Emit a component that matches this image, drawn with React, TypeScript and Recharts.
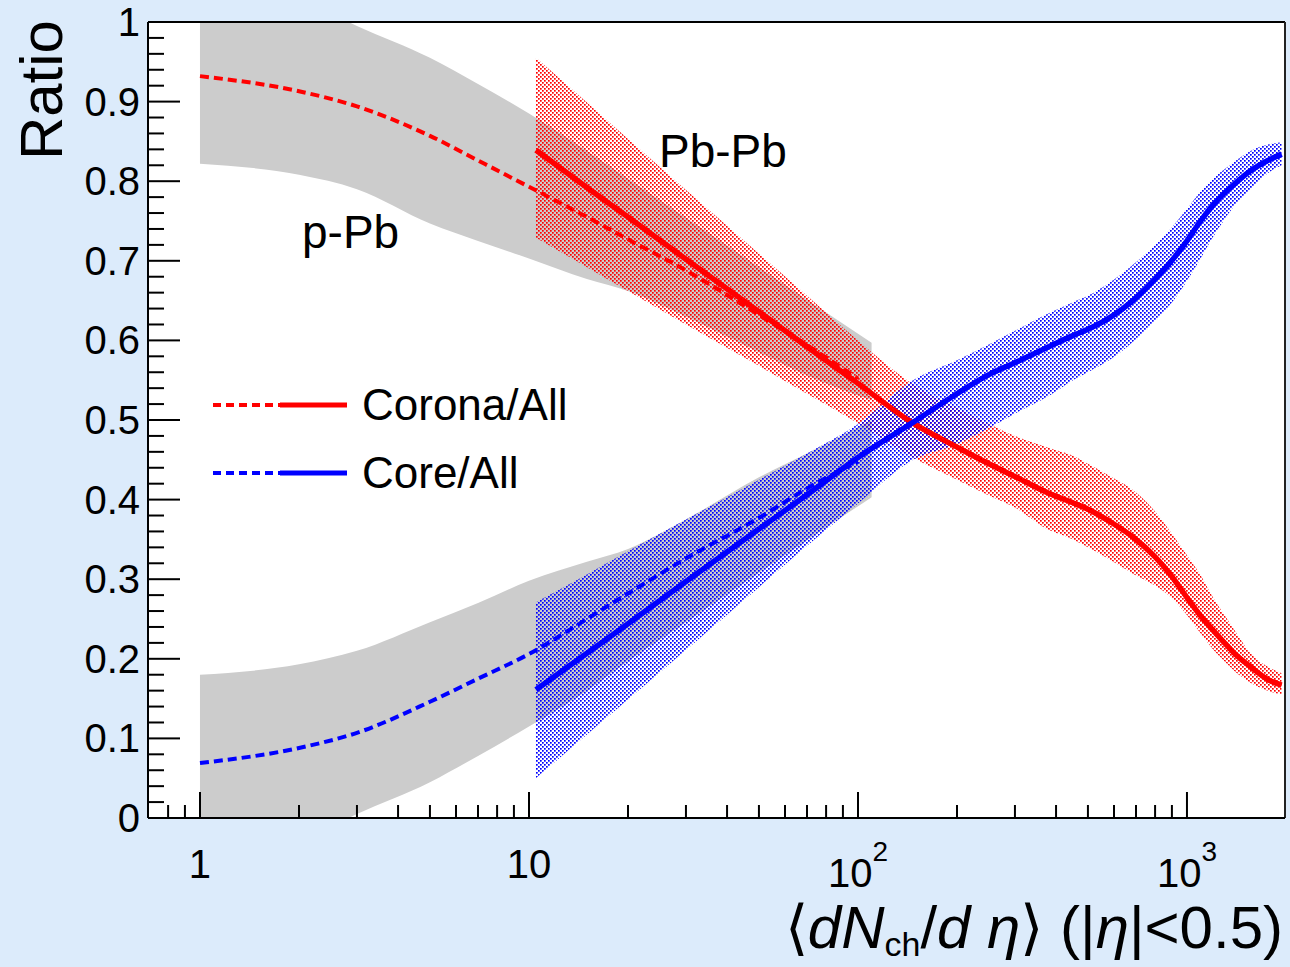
import React from 'react';
import { ComposedChart, Area, Line, XAxis, YAxis, CartesianGrid, ReferenceLine, Legend } from 'recharts';

// p-Pb: grey bands
const PPB_X = [1, 2, 3, 5, 7, 10, 15, 20, 30, 50, 70, 110];
const PPB_CORONA_LO = [0.822, 0.808, 0.79, 0.747, 0.725, 0.703, 0.677, 0.662, 0.63, 0.585, 0.556, 0.525];
const PPB_CORONA_HI = [1.06, 1.03, 0.995, 0.955, 0.922, 0.885, 0.838, 0.803, 0.754, 0.692, 0.651, 0.597];
const PPB_CORE_LO = [-0.06, -0.03, 0.005, 0.045, 0.078, 0.115, 0.16, 0.197, 0.246, 0.308, 0.349, 0.403];
const PPB_CORE_HI = [0.18, 0.193, 0.21, 0.246, 0.27, 0.298, 0.322, 0.338, 0.375, 0.428, 0.458, 0.5];

// p-Pb: dashed central values
const PPB_LINE_X = [1, 2, 3, 5, 7, 10, 15, 20, 30, 50, 70, 100];
const PPB_CORONA = [0.932, 0.913, 0.894, 0.857, 0.826, 0.793, 0.755, 0.727, 0.688, 0.632, 0.594, 0.552];
const PPB_CORE = [0.069, 0.088, 0.107, 0.146, 0.175, 0.206, 0.25, 0.282, 0.326, 0.377, 0.414, 0.448];

// Pb-Pb: solid lines + dotted bands
const PBPB_X = [10.5, 15, 20, 30, 50, 70, 100, 147, 200, 250, 300, 380, 450, 500, 580, 685, 800, 890, 1000, 1100, 1200, 1300, 1400, 1560, 1760, 1940];
const PBPB_CORONA = [0.839, 0.792, 0.755, 0.702, 0.636, 0.592, 0.546, 0.496, 0.466, 0.445, 0.429, 0.408, 0.396, 0.388, 0.373, 0.353, 0.328, 0.306, 0.277, 0.254, 0.236, 0.22, 0.206, 0.19, 0.174, 0.167];
const PBPB_CORONA_HI = [0.955, 0.899, 0.853, 0.789, 0.709, 0.656, 0.6, 0.545, 0.515, 0.495, 0.48, 0.465, 0.455, 0.445, 0.43, 0.412, 0.385, 0.36, 0.33, 0.305, 0.277, 0.255, 0.235, 0.207, 0.19, 0.182];
const PBPB_CORONA_LO = [0.729, 0.692, 0.662, 0.62, 0.568, 0.533, 0.496, 0.453, 0.425, 0.405, 0.39, 0.362, 0.35, 0.34, 0.325, 0.307, 0.292, 0.278, 0.255, 0.232, 0.212, 0.197, 0.184, 0.17, 0.16, 0.155];
const PBPB_CORE = [0.161, 0.207, 0.244, 0.297, 0.363, 0.406, 0.453, 0.497, 0.533, 0.557, 0.572, 0.592, 0.606, 0.614, 0.628, 0.65, 0.677, 0.698, 0.725, 0.75, 0.77, 0.785, 0.797, 0.813, 0.826, 0.834];
const PBPB_CORE_HI = [0.271, 0.306, 0.335, 0.375, 0.425, 0.458, 0.495, 0.55, 0.575, 0.595, 0.612, 0.634, 0.648, 0.656, 0.672, 0.695, 0.72, 0.74, 0.765, 0.787, 0.803, 0.815, 0.825, 0.838, 0.846, 0.849];
const PBPB_CORE_LO = [0.05, 0.105, 0.149, 0.211, 0.29, 0.342, 0.395, 0.45, 0.47, 0.49, 0.508, 0.53, 0.55, 0.56, 0.575, 0.598, 0.625, 0.645, 0.675, 0.703, 0.73, 0.752, 0.77, 0.79, 0.81, 0.82];

// axes
const X_DOMAIN = [0.695, 1986];
const X_MAJOR = [1, 10, 100, 1000];
const X_LABEL_BASE = ['1', '10', '10', '10'];
const X_LABEL_EXP = ['', '', '2', '3'];
const X_MINOR = [0.8, 0.9, 2, 3, 4, 5, 6, 7, 8, 9, 20, 30, 40, 50, 60, 70, 80, 90, 200, 300, 400, 500, 600, 700, 800, 900];
const X_TICKS = [...X_MINOR, ...X_MAJOR].sort((a, b) => a - b);

const Y_MAJOR = [0, 0.1, 0.2, 0.3, 0.4, 0.5, 0.6, 0.7, 0.8, 0.9, 1];
const Y_LABELS = ['0', '0.1', '0.2', '0.3', '0.4', '0.5', '0.6', '0.7', '0.8', '0.9', '1'];
const Y_TICKS = Array.from({ length: 51 }, (_, i) => Math.round(i * 2) / 100);

const LEGEND_ITEMS = [
  { name: 'Corona/All', color: '#ff0000' },
  { name: 'Core/All', color: '#0000ff' },
];

const FONT = '"Liberation Sans", Arial, Helvetica, sans-serif';

const band = (xs: number[], lo: number[], hi: number[]) => xs.map((x, i) => ({ x, range: [lo[i], hi[i]] }));
const series = (xs: number[], ys: number[]) => xs.map((x, i) => ({ x, y: ys[i] }));

const ppbCoronaBand = band(PPB_X, PPB_CORONA_LO, PPB_CORONA_HI);
const ppbCoreBand = band(PPB_X, PPB_CORE_LO, PPB_CORE_HI);
const pbpbCoronaBand = band(PBPB_X, PBPB_CORONA_LO, PBPB_CORONA_HI);
const pbpbCoreBand = band(PBPB_X, PBPB_CORE_LO, PBPB_CORE_HI);
const ppbCorona = series(PPB_LINE_X, PPB_CORONA);
const ppbCore = series(PPB_LINE_X, PPB_CORE);
const pbpbCorona = series(PBPB_X, PBPB_CORONA);
const pbpbCore = series(PBPB_X, PBPB_CORE);

function XTick(props: any) {
  const { x, y, payload } = props;
  const idx = X_MAJOR.indexOf(payload.value);
  const major = idx >= 0;
  const exp = major ? X_LABEL_EXP[idx] : '';
  return (
    <g>
      <line x1={x} y1={y} x2={x} y2={y - (major ? 26 : 13)} stroke="#000" strokeWidth={2} />
      {major && (
        <text x={x} y={exp ? y + 69 : y + 60} textAnchor="middle" fontSize={40} fill="#000" fontFamily={FONT}>
          {X_LABEL_BASE[idx]}
          {exp && <tspan fontSize={28} dy={-26}>{exp}</tspan>}
        </text>
      )}
    </g>
  );
}

function YTick(props: any) {
  const { x, y, payload } = props;
  const idx = Y_MAJOR.findIndex(v => Math.abs(v - payload.value) < 1e-6);
  const major = idx >= 0;
  return (
    <g>
      <line x1={x} y1={y} x2={x + (major ? 32 : 16)} y2={y} stroke="#000" strokeWidth={2} />
      {major && (
        <text x={x - 8} y={y + 14} textAnchor="end" fontSize={40} fill="#000" fontFamily={FONT}>
          {Y_LABELS[idx]}
        </text>
      )}
    </g>
  );
}

function LegendBox() {
  return (
    <svg width={400} height={130} style={{ fontFamily: FONT }}>
      {LEGEND_ITEMS.map((it, i) => {
        const cy = 35 + i * 68;
        return (
          <g key={it.name}>
            <line x1={13} y1={cy} x2={80} y2={cy} stroke={it.color} strokeWidth={4} strokeDasharray="8 5" />
            <line x1={80} y1={cy} x2={147} y2={cy} stroke={it.color} strokeWidth={5} />
            <text x={162} y={cy + 15} fontSize={44} fill="#000">{it.name}</text>
          </g>
        );
      })}
    </svg>
  );
}

export default function App() {
  return (
    <div style={{ position: 'absolute', left: 0, top: 0, width: 1290, height: 967, background: '#dcebfb', fontFamily: FONT }}>
      <ComposedChart width={1290} height={967} margin={{ top: 22, right: 5, bottom: 89, left: 48 }}>
        <defs>
          <pattern id="dotsRed" width="4" height="4" patternUnits="userSpaceOnUse">
            <rect x="0" y="0" width="1.7" height="1.7" fill="#ff0000" />
            <rect x="2" y="2" width="1.7" height="1.7" fill="#ff0000" />
          </pattern>
          <pattern id="dotsBlue" width="4" height="4" patternUnits="userSpaceOnUse">
            <rect x="0" y="0" width="1.7" height="1.7" fill="#0000ff" />
            <rect x="2" y="2" width="1.7" height="1.7" fill="#0000ff" />
          </pattern>
        </defs>
        <CartesianGrid horizontal={false} vertical={false} fill="#ffffff" />
        <XAxis
          dataKey="x"
          type="number"
          scale="log"
          domain={X_DOMAIN}
          allowDataOverflow
          ticks={X_TICKS}
          interval={0}
          tickSize={0}
          tickMargin={0}
          tickLine={false}
          tick={<XTick />}
          axisLine={{ stroke: '#000', strokeWidth: 2 }}
          height={60}
        />
        <YAxis
          type="number"
          domain={[0, 1]}
          allowDataOverflow
          ticks={Y_TICKS}
          interval={0}
          tickSize={0}
          tickMargin={0}
          tickLine={false}
          tick={<YTick />}
          axisLine={{ stroke: '#000', strokeWidth: 2 }}
          width={100}
        />
        <Area data={ppbCoronaBand} dataKey="range" type="monotone" stroke="none" fill="#cccccc" fillOpacity={1} isAnimationActive={false} dot={false} activeDot={false} />
        <Area data={ppbCoreBand} dataKey="range" type="monotone" stroke="none" fill="#cccccc" fillOpacity={1} isAnimationActive={false} dot={false} activeDot={false} />
        <Area data={pbpbCoronaBand} dataKey="range" type="monotone" stroke="none" fill="url(#dotsRed)" fillOpacity={1} isAnimationActive={false} dot={false} activeDot={false} />
        <Area data={pbpbCoreBand} dataKey="range" type="monotone" stroke="none" fill="url(#dotsBlue)" fillOpacity={1} isAnimationActive={false} dot={false} activeDot={false} />
        <Line data={ppbCorona} dataKey="y" type="monotone" stroke="#ff0000" strokeWidth={4} strokeDasharray="9 5" dot={false} activeDot={false} isAnimationActive={false} />
        <Line data={ppbCore} dataKey="y" type="monotone" stroke="#0000ff" strokeWidth={4} strokeDasharray="9 5" dot={false} activeDot={false} isAnimationActive={false} />
        <Line data={pbpbCorona} dataKey="y" type="monotone" stroke="#ff0000" strokeWidth={5.5} dot={false} activeDot={false} isAnimationActive={false} />
        <Line data={pbpbCore} dataKey="y" type="monotone" stroke="#0000ff" strokeWidth={5.5} dot={false} activeDot={false} isAnimationActive={false} />
        <ReferenceLine y={1} stroke="#000" strokeWidth={2} ifOverflow="visible" />
        <ReferenceLine x={X_DOMAIN[1]} stroke="#222" strokeWidth={2} ifOverflow="visible" />
        <Legend
          layout="horizontal"
          verticalAlign="middle"
          align="center"
          content={() => <LegendBox />}
          wrapperStyle={{ position: 'absolute', left: 200, top: 370, width: 400, height: 130 }}
        />
        <text x={62} y={20} transform="rotate(-90 62 20)" textAnchor="end" fontSize={60} fill="#000" fontFamily={FONT}>Ratio</text>
        <text x={302} y={248} fontSize={46} fill="#000" fontFamily={FONT}>p-Pb</text>
        <text x={659} y={167} fontSize={46} fill="#000" fontFamily={FONT}>Pb-Pb</text>
        <text x={1283} y={948} textAnchor="end" fontSize={60} fill="#000" fontFamily={FONT}>
          <tspan>⟨</tspan>
          <tspan fontStyle="italic">dN</tspan>
          <tspan fontSize={34} dy={8}>ch</tspan>
          <tspan dy={-8}>/</tspan>
          <tspan fontStyle="italic">d η</tspan>
          <tspan>⟩ (|</tspan>
          <tspan fontStyle="italic">η</tspan>
          <tspan>|&lt;0.5)</tspan>
        </text>
      </ComposedChart>
    </div>
  );
}
